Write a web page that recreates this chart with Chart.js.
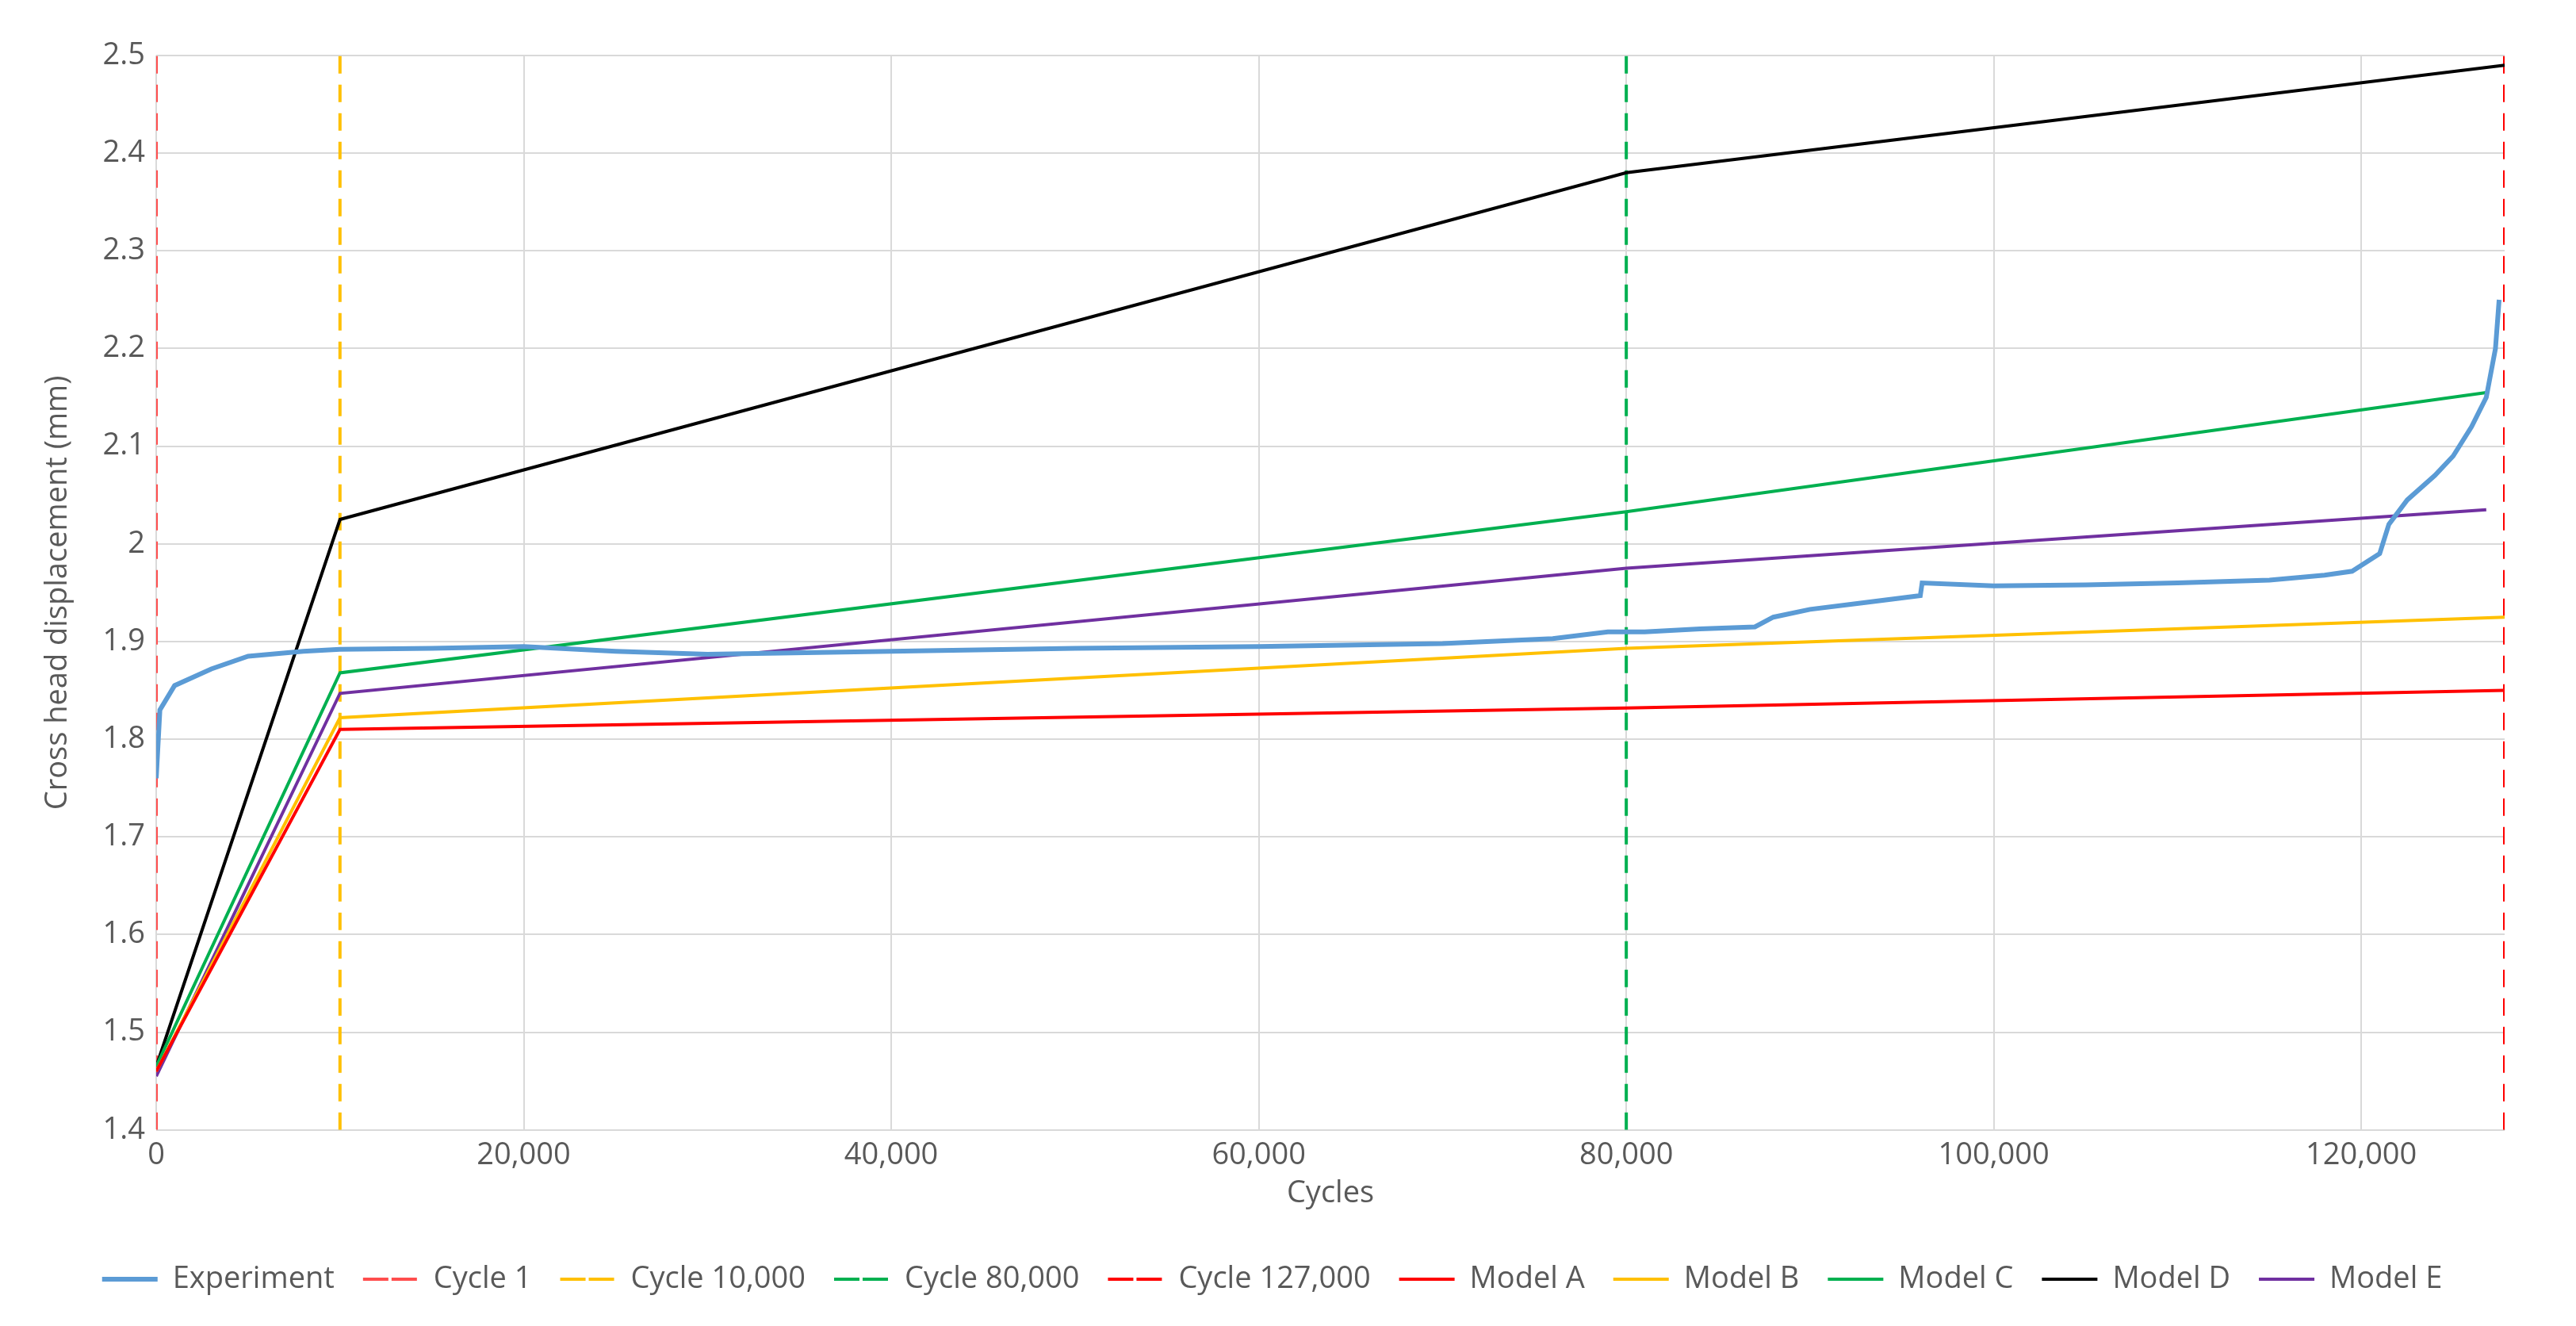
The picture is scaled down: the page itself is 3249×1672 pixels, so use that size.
<!DOCTYPE html>
<html>
<head>
<meta charset="utf-8">
<script src="https://cdn.jsdelivr.net/npm/chart.js@4"></script>
<style>
  html, body { margin: 0; padding: 0; background: #fff; }
  #wrap { width: 3249px; height: 1672px; }
</style>
</head>
<body>
<div id="wrap"><canvas id="chart"></canvas></div>
<script>
// experiment curve
const expCycles = [0, 200, 1000, 3000, 5000, 8000, 10000, 15000, 20000, 25000, 30000, 40000, 50000, 60000, 70000, 76000, 79000, 81000, 84000, 87000, 88000, 90000, 93000, 96000, 96100, 100000, 105000, 110000, 115000, 118000, 119500, 121000, 121500, 122500, 124000, 125000, 126000, 126800, 127300, 127500];
const expDisp = [1.76, 1.83, 1.855, 1.872, 1.885, 1.89, 1.892, 1.893, 1.895, 1.89, 1.887, 1.89, 1.893, 1.895, 1.898, 1.903, 1.91, 1.91, 1.913, 1.915, 1.925, 1.933, 1.94, 1.947, 1.96, 1.957, 1.958, 1.96, 1.963, 1.968, 1.972, 1.99, 2.02, 2.045, 2.07, 2.09, 2.12, 2.15, 2.2, 2.25];

// model predictions at the evaluated cycles
const modelCycles = [0, 10000, 80000, 127800];
const modelCyclesShort = [0, 10000, 80000, 126800];
const modelA = [1.46, 1.81, 1.832, 1.85];
const modelB = [1.46, 1.822, 1.893, 1.925];
const modelC = [1.465, 1.868, 2.033, 2.155];
const modelD = [1.465, 2.025, 2.38, 2.49];
const modelE = [1.455, 1.847, 1.975, 2.035];

// vertical markers
const markerNames = ["Cycle 1", "Cycle 10,000", "Cycle 80,000", "Cycle 127,000"];
const markerCycles = [0, 10000, 80000, 127800];
const markerColors = ["#ff4d4d", "#ffc000", "#00b050", "#ff0000"];

const yTicks = [1.4, 1.5, 1.6, 1.7, 1.8, 1.9, 2, 2.1, 2.2, 2.3, 2.4, 2.5];
const xTicks = [0, 20000, 40000, 60000, 80000, 100000, 120000];

const pts = (xs, ys) => xs.map((x, i) => ({ x: x, y: ys[i] }));

const datasets = [
  { label: "Experiment", data: pts(expCycles, expDisp), borderColor: "#5b9bd5", backgroundColor: "#5b9bd5", borderWidth: 6, order: 0 }
];
markerNames.forEach((name, i) => {
  datasets.push({
    label: name,
    data: [{ x: markerCycles[i], y: 1.4 }, { x: markerCycles[i], y: 2.5 }],
    borderColor: markerColors[i], backgroundColor: markerColors[i],
    borderWidth: 4, borderDash: [22, 14], order: 5
  });
});
const models = [
  ["Model A", modelA, "#ff0000", modelCycles],
  ["Model B", modelB, "#ffc000", modelCycles],
  ["Model C", modelC, "#00b050", modelCyclesShort],
  ["Model D", modelD, "#000000", modelCycles],
  ["Model E", modelE, "#7030a0", modelCyclesShort]
];
models.forEach(m => {
  datasets.push({ label: m[0], data: pts(m[3], m[1]), borderColor: m[2], backgroundColor: m[2], borderWidth: 4, order: 2 });
});

const fontBase = { family: "'Segoe UI', 'Open Sans', 'Liberation Sans', sans-serif", size: 38 };

new Chart(document.getElementById("chart"), {
  type: "line",
  data: { datasets: datasets },
  options: {
    responsive: true,
    maintainAspectRatio: false,
    animation: false,
    elements: { point: { radius: 0 }, line: { tension: 0 } },
    layout: { padding: { left: 50, right: 90, top: 70, bottom: 30 } },
    plugins: {
      legend: {
        position: "bottom",
        labels: {
          font: fontBase, color: "#595959",
          boxWidth: 70, boxHeight: 0, padding: 36,
          sort: (a, b) => a.datasetIndex - b.datasetIndex
        }
      },
      tooltip: { enabled: false }
    },
    scales: {
      x: {
        type: "linear", min: 0, max: 127800,
        afterBuildTicks: ax => { ax.ticks = xTicks.map(v => ({ value: v })); },
        ticks: { font: fontBase, color: "#595959", callback: v => v.toLocaleString("en-US"), padding: 10, maxRotation: 0 },
        grid: { color: "#d9d9d9", lineWidth: 2, drawTicks: false },
        border: { color: "#d9d9d9" },
        title: { display: true, text: "Cycles", font: fontBase, color: "#595959", padding: { top: -8, bottom: 30 } }
      },
      y: {
        min: 1.4, max: 2.5,
        afterBuildTicks: ax => { ax.ticks = yTicks.map(v => ({ value: v })); },
        ticks: { font: fontBase, color: "#595959", padding: 14, callback: v => String(Math.round(v * 10) / 10) },
        grid: { color: "#d9d9d9", lineWidth: 2, drawTicks: false },
        border: { display: false },
        title: { display: true, text: "Cross head displacement (mm)", font: fontBase, color: "#595959", padding: { top: 0, bottom: 20 } }
      }
    }
  }
});
</script>
</body>
</html>
